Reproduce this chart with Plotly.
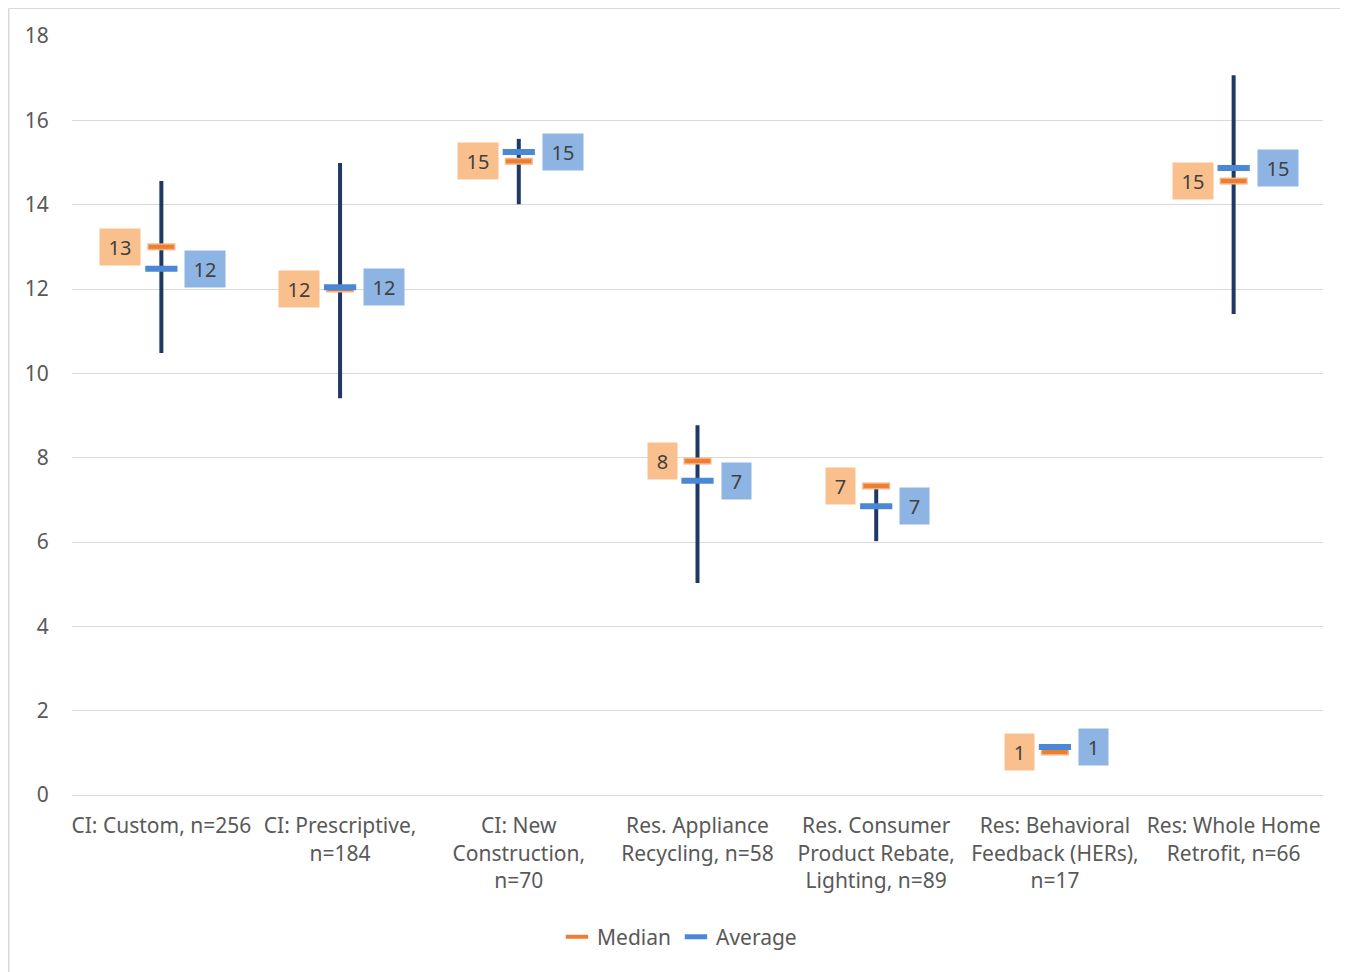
import plotly.graph_objects as go

categories = [
    "CI: Custom, n=256",
    "CI: Prescriptive,<br>n=184",
    "CI: New<br>Construction,<br>n=70",
    "Res. Appliance<br>Recycling, n=58",
    "Res. Consumer<br>Product Rebate,<br>Lighting, n=89",
    "Res: Behavioral<br>Feedback (HERs),<br>n=17",
    "Res: Whole Home<br>Retrofit, n=66",
]
range_low = [10.48, 9.41, 14.01, 5.03, 6.02, 1.04, 11.41]
range_high = [14.56, 14.99, 15.56, 8.77, 7.30, 1.12, 17.07]
median = [13.0, 12.0, 15.03, 7.92, 7.33, 1.02, 14.56]
average = [12.48, 12.04, 15.25, 7.45, 6.85, 1.14, 14.87]

FONT = "Noto Sans"
TXT = "#595959"
ORANGE = "#ED7D31"
BLUE = "#4A88D6"
NAVY = "#1F3864"

fig = go.Figure()

# range lines
xs, ys = [], []
for c, lo, hi in zip(categories, range_low, range_high):
    xs += [c, c, None]
    ys += [lo, hi, None]
fig.add_trace(go.Scatter(x=xs, y=ys, mode="lines", line=dict(color=NAVY, width=4),
                         showlegend=False, hoverinfo="skip"))

# line-ew marker length is 1.4 * size
fig.add_trace(go.Scatter(x=categories, y=median, mode="markers", showlegend=False, hoverinfo="skip",
                         marker=dict(symbol="line-ew", size=20, color="#F4B183",
                                     line=dict(color="#F4B183", width=7))))
fig.add_trace(go.Scatter(x=categories, y=median, mode="markers", name="Median",
                         marker=dict(symbol="line-ew", size=18, color=ORANGE,
                                     line=dict(color=ORANGE, width=4))))
fig.add_trace(go.Scatter(x=categories, y=average, mode="markers", name="Average",
                         marker=dict(symbol="line-ew", size=23, color=BLUE,
                                     line=dict(color=BLUE, width=6))))

annotations = []
for c, m, a in zip(categories, median, average):
    mt, at = str(round(m)), str(round(a))
    annotations.append(dict(x=c, y=m, xref="x", yref="y", text=mt, showarrow=False,
                            xanchor="right", yanchor="middle", xshift=-20,
                            width=11 * len(mt) + 8, height=26,
                            bgcolor="#F9C08D", borderpad=5,
                            font=dict(family=FONT, size=20, color="#404040")))
    annotations.append(dict(x=c, y=a, xref="x", yref="y", text=at, showarrow=False,
                            xanchor="left", yanchor="middle", xshift=23,
                            width=11 * len(at) + 8, height=26,
                            bgcolor="#8EB4E3", borderpad=5,
                            font=dict(family=FONT, size=20, color="#404040")))

W, H = 1340, 964
L, R, T, B = 64, 25, 28, 177
pw = W - L - R
ph = H - T - B

fig.update_layout(
    width=W, height=H,
    margin=dict(l=L, r=R, t=T, b=B),
    paper_bgcolor="white", plot_bgcolor="white",
    font=dict(family=FONT, size=20, color=TXT),
    showlegend=True,
    legend=dict(orientation="h", x=0.5 - 18 / pw, xanchor="center", y=(787 - 929) / ph, yanchor="middle",
                font=dict(family=FONT, size=21, color=TXT), itemwidth=30, traceorder="normal"),
    annotations=annotations,
    shapes=[
        dict(type="line", xref="paper", yref="paper",
             x0=(0.5 - L) / pw, x1=(0.5 - L) / pw, y0=(787 - H - 5) / ph, y1=(786.5) / ph,
             line=dict(color="#D9D9D9", width=2), layer="below"),
        dict(type="line", xref="paper", yref="paper",
             x0=(0.5 - L) / pw, x1=(W + 5 - L) / pw, y0=(786.5) / ph, y1=(786.5) / ph,
             line=dict(color="#D9D9D9", width=1), layer="below"),
    ],
)

fig.update_xaxes(type="category", categoryorder="array", categoryarray=categories,
                 range=[-0.5, len(categories) - 0.5], showgrid=False,
                 showline=True, linecolor="#D9D9D9", linewidth=1,
                 ticks="outside", ticklen=12, tickcolor="rgba(0,0,0,0)",
                 tickfont=dict(family=FONT, size=21, color=TXT))
fig.update_yaxes(range=[0, 18], dtick=2, showgrid=True, gridcolor="#D9D9D9", gridwidth=1,
                 zeroline=False, showline=False,
                 ticks="outside", ticklen=18, tickcolor="rgba(0,0,0,0)",
                 tickfont=dict(family=FONT, size=21, color=TXT))

fig.write_html("out.html")
